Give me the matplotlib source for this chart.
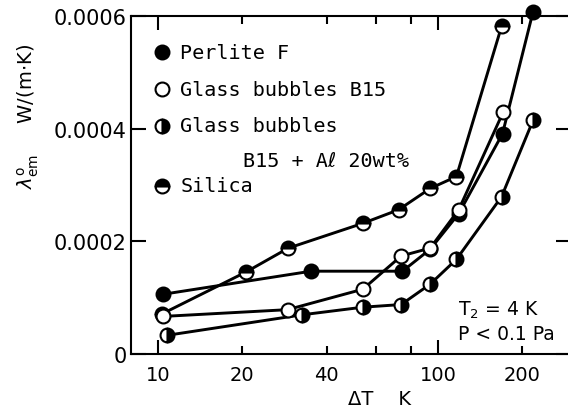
import matplotlib
matplotlib.use("Agg")
import matplotlib.pyplot as plt
from matplotlib.ticker import FixedLocator, FixedFormatter

# values: delta T in K, lambda in W/(m K)
perlite_dt = [10.4, 35.2, 74.7, 93.8, 118.6, 170.1, 218.8]
perlite_lam = [0.000106, 0.000147, 0.000147, 0.000186, 0.000249, 0.000391, 0.000608]

b15_dt = [10.4, 29.0, 53.9, 73.9, 93.8, 118.6, 170.9]
b15_lam = [0.0000667, 0.0000787, 0.000115, 0.000174, 0.000188, 0.000256, 0.000429]

al_dt = [10.8, 32.7, 53.9, 73.9, 93.8, 116.4, 168.7, 218.8]
al_lam = [0.0000333, 0.0000696, 0.0000831, 0.0000878, 0.000124, 0.000168, 0.000279, 0.000415]

silica_dt = [10.3, 20.6, 29.2, 53.9, 72.3, 93.9, 116.4, 169.1]
silica_lam = [0.0000709, 0.0001455, 0.000188, 0.000232, 0.000256, 0.000294, 0.000315, 0.000583]

x_major = [10, 100]
x_minor = [20, 40, 60, 80, 200]
x_minor_labels = ["20", "40", "", "", "200"]
y_ticks = [0, 0.0002, 0.0004, 0.0006]
y_labels = ["0", "0.0002", "0.0004", "0.0006"]

mono = ["DejaVu Sans Mono", "DejaVu Sans"]
plt.rcParams["mathtext.fontset"] = "dejavusans"

fig = plt.figure(figsize=(5.68, 4.14), dpi=100)
ax = fig.add_axes([0.2306, 0.1425, 0.7755, 0.8164])

# (x, y, facecolor, fillstyle, zorder)
series = [
    (silica_dt, silica_lam, "black", "top", 3),
    (perlite_dt, perlite_lam, "black", "full", 4),
    (b15_dt, b15_lam, "white", "full", 5),
    (al_dt, al_lam, "black", "right", 6),
]
marker_kw = dict(marker="o", ms=10, mec="black", mew=1.5, markerfacecoloralt="white")

for xs, ys, fc, fs, z in series:
    ax.plot(xs, ys, color="black", lw=2.1, zorder=2, clip_on=False)
for xs, ys, fc, fs, z in series:
    ax.plot(xs, ys, ls="none", mfc=fc, fillstyle=fs, zorder=z, clip_on=False, **marker_kw)

ax.set_xscale("log")
ax.set_xlim(8, 300)
ax.set_ylim(0, 0.0006)

ax.xaxis.set_major_locator(FixedLocator(x_major))
ax.xaxis.set_major_formatter(FixedFormatter(["10", "100"]))
ax.xaxis.set_minor_locator(FixedLocator(x_minor))
ax.xaxis.set_minor_formatter(FixedFormatter(x_minor_labels))
ax.yaxis.set_major_locator(FixedLocator(y_ticks))
ax.yaxis.set_major_formatter(FixedFormatter(y_labels))

ax.tick_params(which="both", direction="in", top=True, right=True, width=1.5)
ax.tick_params(axis="x", which="major", length=10, pad=8, labelsize=14)
ax.tick_params(axis="x", which="minor", length=6, pad=8, labelsize=14)
ax.tick_params(axis="y", length=11, pad=3, labelsize=15)
for s in ax.spines.values():
    s.set_linewidth(1.5)

# legend drawn by hand so the two-line entry sits like the original
legend_rows = [
    (0.8926, "Perlite F", "black", "full"),
    (0.784, "Glass bubbles B15", "white", "full"),
    (0.6754, "Glass bubbles", "black", "right"),
    (0.4979, "Silica", "black", "top"),
]
for y, label, fc, fs in legend_rows:
    ax.plot([0.0697], [y], transform=ax.transAxes, mfc=fc, fillstyle=fs, **marker_kw)
    ax.text(0.112, y, label, transform=ax.transAxes, family=mono, fontsize=14.5, va="center", ha="left")
ax.text(0.255, 0.5719, "B15 + Aℓ 20wt%", transform=ax.transAxes, family=mono,
        fontsize=14.5, va="center", ha="left")

ax.text(0.743, 0.1331, r"T$_2$ = 4 K", transform=ax.transAxes, fontsize=13.5, va="center")
ax.text(0.743, 0.0621, "P < 0.1 Pa", transform=ax.transAxes, fontsize=13.5, va="center")

fig.text(0.669, 0.034, "ΔT    K", ha="center", va="center", fontsize=14)
fig.text(0.0493, 0.7198, r"$\lambda^{\mathrm{o}}_{\mathrm{em}}$     W/(m$\cdot$K)",
         rotation=90, ha="center", va="center", fontsize=14)

fig.savefig("out.png", dpi=100)
